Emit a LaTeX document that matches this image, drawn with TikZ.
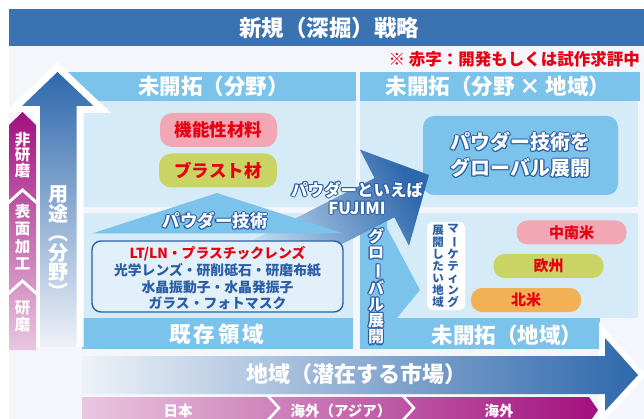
\documentclass[tikz,border=0pt]{standalone}
\usepackage{fontspec}
\setmainfont{Noto Sans CJK JP}
\usetikzlibrary{shapes.misc}
\definecolor{bgc}{HTML}{F4F6FB}
\definecolor{titleblue}{HTML}{3A72B2}
\definecolor{hdr}{HTML}{7CC3EC}
\definecolor{bodyc}{HTML}{D6EBF8}
\definecolor{bodylt}{HTML}{E2F0FA}
\definecolor{dblue}{HTML}{2C5EA6}
\definecolor{arrowblue}{HTML}{2E68AC}
\definecolor{redtxt}{HTML}{E60012}
\definecolor{pinkpill}{HTML}{F2A8B4}
\definecolor{greenpill}{HTML}{C9D464}
\definecolor{orangepill}{HTML}{F2B154}
\definecolor{mag}{HTML}{A2107E}
\definecolor{magl}{HTML}{E9C7E0}
\definecolor{fadel}{HTML}{EEF2F8}
\newcommand{\vchoon}{\rotatebox[origin=c]{-90}{ー}}
\newcommand{\outlined}[4]{%
  \foreach \ang in {0,45,...,315}{%
    \node[font=#3, text=dblue, align=center, inner sep=0pt] at ([shift={(\ang:1.1)}]#2) {#4};
  }
  \node[font=#3, text=white, align=center, inner sep=0pt] (#1) at (#2) {#4};
}
\begin{document}
\begin{tikzpicture}[x=1pt,y=-1pt,
  pill/.style={rounded corners=12pt, inner sep=0pt, text=redtxt, font=\fontsize{17.5}{17.5}\selectfont\bfseries},
  spill/.style={rounded corners=11pt, inner sep=0pt, text=redtxt, font=\fontsize{15}{15}\selectfont\bfseries, minimum width=110pt, minimum height=24pt},
  hdrtext/.style={text=white, font=\fontsize{21.5}{21.5}\selectfont\bfseries, inner sep=0pt},
  vwhite/.style={text=white, align=center, inner sep=0pt}
]
\useasboundingbox (0,0) rectangle (644,419);
\fill[white] (0,0) rectangle (644,419);
\fill[bgc] (9,46) rectangle (644,419);
% title
\fill[titleblue] (9,9) rectangle (644,46);
\node[font=\fontsize{22.5}{22.5}\selectfont\bfseries, text=white] (title) at (329,27.5) {新規（深掘）戦略};
\node[anchor=east, text=redtxt, font=\fontsize{16.5}{16.5}\selectfont\bfseries, inner sep=0pt] (note) at (640,59.5) {※ 赤字：開発もしくは試作求評中};
% panels
\fill[hdr] (62,72) rectangle (356,101);
\fill[bodyc] (82,101) rectangle (356,207);
\fill[hdr] (360,72) rectangle (640,101);
\fill[bodyc] (360,101) rectangle (638,207);
\fill[bodyc] (82,213) rectangle (353,318);
\fill[hdr] (82,318) rectangle (353,349);
\fill[bodyc] (360,213) rectangle (638,318);
\fill[hdr] (360,318) rectangle (600,349);
\node[hdrtext] (h1) at (213.5,86.5) {未開拓（分野）};
\node[hdrtext] (h2) at (498,86.5) {未開拓（分野 × 地域）};
\node[hdrtext] (h3) at (217,334) {既\hspace{3pt}存\hspace{3pt}領\hspace{3pt}域};
\node[hdrtext] (h4) at (507,335) {未開拓（地域）};
% pills upper left
\node[pill, fill=pinkpill, minimum width=117pt, minimum height=34pt] (kinou) at (218.5,130) {機能性材料};
\node[pill, fill=greenpill, minimum width=118pt, minimum height=34pt] (blast) at (218,170.5) {ブラスト材};
% global box upper right
\node[fill=hdr, rounded corners=11pt, minimum width=195pt, minimum height=79pt] (gbox) at (520.5,155.5) {};
\outlined{gtext}{520.5,155}{\fontsize{20}{26}\selectfont\bfseries}{パウダー技術を\\グローバル展開}
% pills lower right
\node[spill, fill=pinkpill] (csa) at (571.5,232.5) {中南米};
\node[spill, fill=greenpill] (eu) at (548.5,266) {欧州};
\node[spill, fill=orangepill] (na) at (526,300) {北米};
\node[fill=white, rounded corners=6pt, minimum width=38pt, minimum height=88pt] (mbox) at (446,266) {};
\node[text=dblue, align=center, inner sep=0pt, font=\fontsize{11.5}{12}\selectfont\bfseries] (mk1) at (453,266) {マ\\\vchoon\\ケ\\テ\\ィ\\ン\\グ};
\node[text=dblue, align=center, inner sep=0pt, font=\fontsize{11.5}{12}\selectfont\bfseries] (mk2) at (438,266) {展\\開\\し\\た\\い\\地\\域};
% global expansion shape
\fill[hdr] (360,213) -- (387,213) -- (387,228) -- (420,290) -- (397,318) -- (360,318) -- cycle;
% big diagonal arrow
\shade[left color=bodyc, right color=arrowblue, shading angle=117]
  (223,255.3) -- (374.5,178.1) -- (359.9,149.6) -- (429,175) -- (409,245.8) -- (394.4,217.3) -- (242.9,294.5) -- cycle;
% roof
\fill[hdr] (92,233.5) -- (217,193) -- (343,233.5) -- cycle;
\outlined{roof}{215,221}{\fontsize{17.5}{17.5}\selectfont\bfseries}{パウダー技術}
% technology box
\node[draw=dblue, line width=1.4pt, fill=bodylt, rounded corners=9pt, minimum width=251pt, minimum height=71pt] (techbox) at (217.5,276.5) {};
\node[text=dblue, align=center, inner sep=0pt, font=\fontsize{13.8}{16.7}\selectfont\bfseries] (techtext) at (217.5,278.5)
  {{\color{redtxt}LT/LN・プラスチックレンズ}\\光学レンズ・研削砥石・研磨布紙\\水晶振動子・水晶発振子\\ガラス・フォトマスク};
% texts on arrows
\outlined{fujimi}{357,198}{\fontsize{16.5}{18}\selectfont\bfseries}{パウダーといえば\\FUJIMI}
\outlined{glob}{376,286.5}{\fontsize{16}{16.3}\selectfont\bfseries}{グ\\ロ\\\vchoon\\バ\\ル\\展\\開}
% main horizontal arrow
\draw[white, line width=12pt, line join=miter] (605,356) -- (605,338) -- (638,375) -- (605,411) -- (605,394);
\shade[left color=fadel, right color=arrowblue]
  (82,356) -- (605,356) -- (605,338) -- (638,375) -- (605,411) -- (605,394) -- (82,394) -- cycle;
\node[text=white, font=\fontsize{22}{22}\selectfont\bfseries] (region) at (356,374) {地域（潜在する市場）};
% bottom strip
\shade[left color=magl, right color=mag] (82,397) -- (589,397) -- (598,410) -- (589,423) -- (82,423) -- cycle;
\draw[white, line width=2.5pt] (268,396) -- (279,408) -- (268,420);
\draw[white, line width=2.5pt] (403,396) -- (414,408) -- (403,420);
\node[text=white, font=\fontsize{14.5}{14.5}\selectfont\bfseries] (jp) at (178,411) {日本};
\node[text=white, font=\fontsize{14.5}{14.5}\selectfont\bfseries] (asia) at (341,411) {海外（アジア）};
\node[text=white, font=\fontsize{14.5}{14.5}\selectfont\bfseries] (ovs) at (499,411) {海外};
% vertical blue arrow
\draw[white, line width=14pt, line join=miter] (40,347) -- (40,106) -- (22,106) -- (57.5,72) -- (93.5,106) -- (76.5,106) -- (76.5,347);
\shade[top color=arrowblue, bottom color=fadel]
  (40,347) -- (40,106) -- (22,106) -- (57.5,72) -- (93.5,106) -- (76.5,106) -- (76.5,347) -- cycle;
\node[vwhite, font=\fontsize{20}{19.5}\selectfont\bfseries] (youto) at (58.5,242.5) {用\\途\\︵\\分\\野\\︶};
% magenta arrow
\shade[top color=mag, bottom color=magl] (9,350) -- (9,125) -- (22.5,112) -- (36,125) -- (36,350) -- cycle;
\draw[white, line width=3pt] (8,203) -- (22.5,190) -- (37,203);
\draw[white, line width=3pt] (8,294) -- (22.5,281) -- (37,294);
\node[vwhite, font=\fontsize{15.5}{15.5}\selectfont\bfseries] (m1) at (22.5,155) {非\\研\\磨};
\node[vwhite, font=\fontsize{15.5}{17.5}\selectfont\bfseries] (m2) at (22.5,237) {表\\面\\加\\工};
\node[vwhite, font=\fontsize{15.5}{16.5}\selectfont\bfseries] (m3) at (22.5,316.5) {研\\磨};
\end{tikzpicture}
\end{document}
